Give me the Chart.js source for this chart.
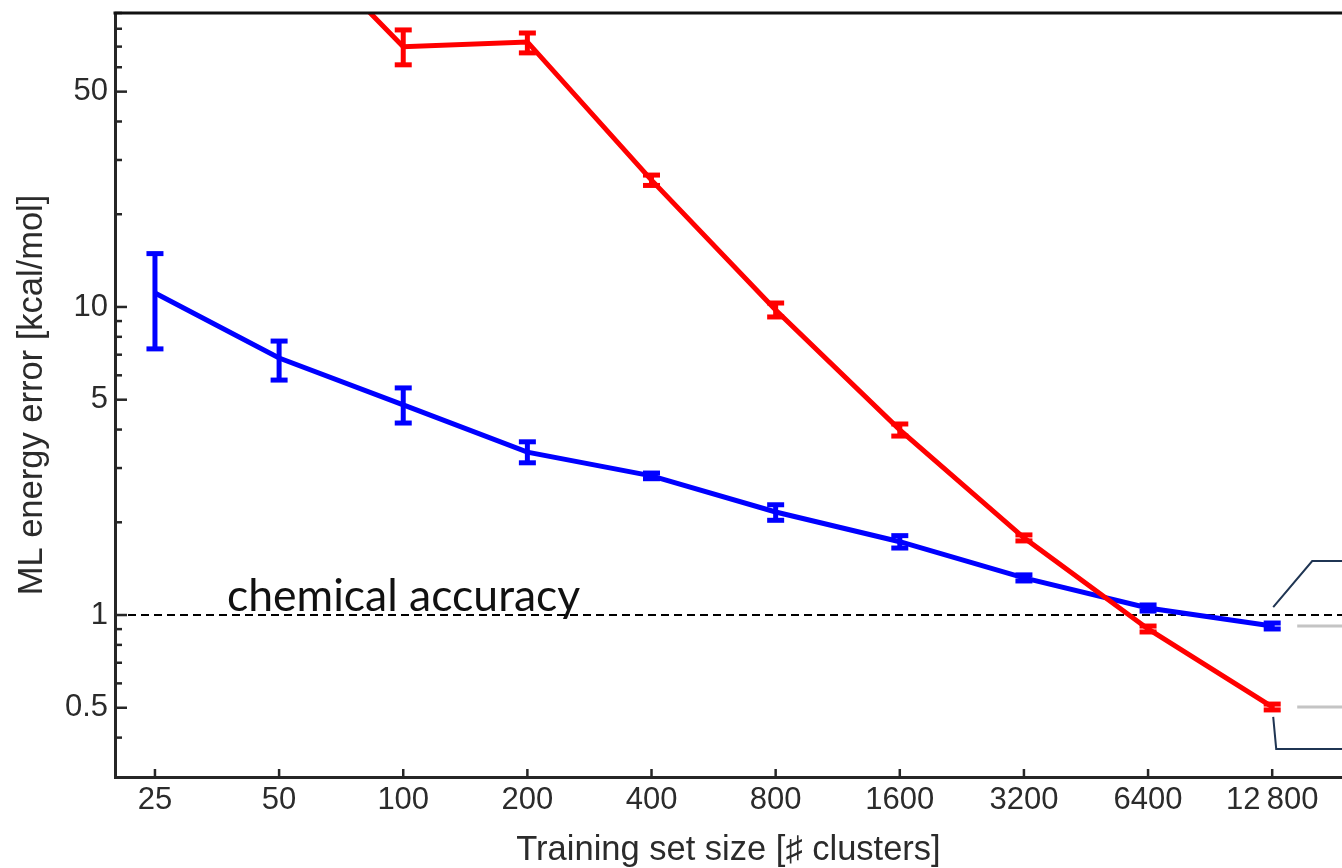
<!DOCTYPE html>
<html>
<head>
<meta charset="utf-8">
<title>ML energy error vs training set size</title>
<script src="https://cdn.jsdelivr.net/npm/chart.js@4.4.1/dist/chart.umd.min.js"></script>
<style>
  html, body { margin: 0; padding: 0; background: #fff; }
  canvas { display: block; }
</style>
</head>
<body>
<canvas id="errChart" width="1342" height="868"></canvas>
<script>
// training set sizes (number of clusters)
const sizes = [25, 50, 100, 200, 400, 800, 1600, 3200, 6400, 12800];
const sizeLabels = ['25', '50', '100', '200', '400', '800', '1600', '3200', '6400', '12\u2009800'];

// blue model: mean error and error bar ends [kcal/mol]
const blueErr  = [11.1, 6.83, 4.81, 3.38, 2.83, 2.16, 1.73, 1.32, 1.054, 0.921];
const blueLow  = [7.31, 5.79, 4.20, 3.12, 2.77, 2.03, 1.65, 1.29, 1.030, 0.901];
const blueHigh = [14.9, 7.75, 5.46, 3.65, 2.89, 2.28, 1.81, 1.35, 1.078, 0.942];

// red model: 50 clusters lies above the plotted range
const redErr  = [null, 181, 69.9, 72.5, 25.8, 9.78, 3.99, 1.78, 0.901, 0.503];
const redLow  = [null, null, 61.1, 66.8, 24.8, 9.28, 3.81, 1.74, 0.881, 0.492];
const redHigh = [null, null, 79.3, 77.5, 26.8, 10.3, 4.17, 1.82, 0.921, 0.514];

const chemicalAccuracy = 1;
const xRange = [20, 18900];
const yRange = [0.298, 90];
const yMajor = [0.5, 1, 5, 10, 50];
const yTicks = [0.4, 0.5, 0.6, 0.7, 0.8, 0.9, 1, 2, 3, 4, 5, 6, 7, 8, 9, 10, 20, 30, 40, 50, 60, 70, 80, 90];

const axisColor = '#262626';
const labelFont = { family: 'Arial, "Liberation Sans", Helvetica, sans-serif', size: 31 };
const titleFont = { family: 'Arial, "Liberation Sans", Helvetica, sans-serif', size: 34.5, lineHeight: 1 };

function seg(ctx, x1, y1, x2, y2) {
  ctx.beginPath();
  ctx.moveTo(x1, y1);
  ctx.lineTo(x2, y2);
  ctx.stroke();
}

// vertical error bars with flat caps
const errorBars = {
  id: 'errorBars',
  afterDatasetsDraw(chart) {
    const { ctx, scales: { x, y } } = chart;
    ctx.save();
    chart.data.datasets.slice().reverse().forEach(ds => {
      if (!ds.low) return;
      ctx.strokeStyle = ds.borderColor;
      ds.data.forEach((p, i) => {
        if (ds.low[i] == null) return;
        const px = x.getPixelForValue(p.x);
        const top = y.getPixelForValue(ds.high[i]);
        const bot = y.getPixelForValue(ds.low[i]);
        ctx.lineWidth = 5;
        seg(ctx, px, top, px, bot);
        ctx.lineWidth = 5;
        seg(ctx, px - 8.5, top, px + 8.5, top);
        seg(ctx, px - 8.5, bot, px + 8.5, bot);
      });
    });
    ctx.restore();
  }
};

// inward tick marks, top frame line, annotations
const frame = {
  id: 'frame',
  afterDraw(chart) {
    const { ctx, chartArea: a, scales: { x, y } } = chart;
    ctx.save();
    ctx.strokeStyle = axisColor;
    ctx.lineWidth = 2.5;
    y.ticks.forEach(t => {
      const py = y.getPixelForValue(t.value);
      seg(ctx, a.left, py, a.left + (yMajor.includes(t.value) ? 12 : 7), py);
    });
    x.ticks.forEach(t => {
      const px = x.getPixelForValue(t.value);
      seg(ctx, px, a.bottom, px, a.bottom - 8);
    });
    ctx.lineWidth = 3;
    ctx.strokeStyle = '#111';
    seg(ctx, a.left - 1.5, a.top, a.right, a.top);

    // label above the dashed reference line
    const yRef = y.getPixelForValue(chemicalAccuracy);
    ctx.fillStyle = '#111';
    ctx.font = '44.5px Lato, "Open Sans", sans-serif';
    ctx.textBaseline = 'alphabetic';
    ctx.fillText('chemical accuracy', a.left + 112, yRef - 4);

    // leader lines next to the last points
    const last = sizes.length - 1;
    const xEnd = x.getPixelForValue(sizes[last]);
    const yBlue = y.getPixelForValue(blueErr[last]);
    const yRed = y.getPixelForValue(redErr[last]);
    ctx.strokeStyle = '#c4c4c4';
    ctx.lineWidth = 3;
    seg(ctx, xEnd + 25, yBlue, a.right, yBlue);
    seg(ctx, xEnd + 25, yRed, a.right, yRed);
    ctx.strokeStyle = '#1f3553';
    ctx.lineWidth = 2;
    ctx.beginPath();
    ctx.moveTo(xEnd + 1, yBlue - 19);
    ctx.lineTo(xEnd + 40, yBlue - 65);
    ctx.lineTo(a.right, yBlue - 65);
    ctx.stroke();
    ctx.beginPath();
    ctx.moveTo(xEnd + 1, yRed + 10);
    ctx.lineTo(xEnd + 4, yRed + 42);
    ctx.lineTo(a.right, yRed + 42);
    ctx.stroke();
    ctx.restore();
  }
};

const ctx = document.getElementById('errChart').getContext('2d');
new Chart(ctx, {
  type: 'line',
  data: {
    datasets: [
      {
        label: 'red',
        data: sizes.map((s, i) => ({ x: s, y: redErr[i] })),
        low: redLow,
        high: redHigh,
        borderColor: '#ff0000',
        borderWidth: 5,
        pointRadius: 0,
        spanGaps: false
      },
      {
        label: 'blue',
        data: sizes.map((s, i) => ({ x: s, y: blueErr[i] })),
        low: blueLow,
        high: blueHigh,
        borderColor: '#0000ff',
        borderWidth: 5,
        pointRadius: 0
      },
      {
        label: 'chemical accuracy',
        data: xRange.map(v => ({ x: v, y: chemicalAccuracy })),
        borderColor: '#000',
        borderWidth: 2,
        borderDash: [8, 5],
        pointRadius: 0
      }
    ]
  },
  options: {
    responsive: false,
    animation: false,
    events: [],
    layout: { padding: { top: 13 } },
    plugins: { legend: { display: false }, tooltip: { enabled: false } },
    scales: {
      x: {
        type: 'logarithmic',
        min: xRange[0],
        max: xRange[1],
        afterBuildTicks: s => { s.ticks = sizes.map(v => ({ value: v })); },
        afterFit: s => { s.height = 91; s.paddingLeft = 0; s.paddingRight = 0; },
        grid: { display: false, drawTicks: false },
        border: { display: true, color: axisColor, width: 3 },
        ticks: {
          autoSkip: false,
          maxRotation: 0,
          padding: 5,
          color: '#2b2b2b',
          font: labelFont,
          callback: (v, i) => sizeLabels[i]
        },
        title: {
          display: true,
          text: 'Training set size [\u266F clusters]',
          color: '#2b2b2b',
          font: titleFont,
          padding: 0
        }
      },
      y: {
        type: 'logarithmic',
        min: yRange[0],
        max: yRange[1],
        afterBuildTicks: s => { s.ticks = yTicks.map(v => ({ value: v })); },
        afterFit: s => { s.width = 115; s.paddingTop = 0; s.paddingBottom = 0; },
        grid: { display: false, drawTicks: false },
        border: { display: true, color: axisColor, width: 3 },
        ticks: {
          autoSkip: false,
          padding: 7,
          color: '#2b2b2b',
          font: labelFont,
          callback: v => (yMajor.includes(v) ? String(v) : '')
        },
        title: {
          display: true,
          text: 'ML energy error [kcal/mol]',
          color: '#2b2b2b',
          font: titleFont,
          padding: { top: 15, bottom: 0 }
        }
      }
    }
  },
  plugins: [errorBars, frame]
});
</script>
</body>
</html>
